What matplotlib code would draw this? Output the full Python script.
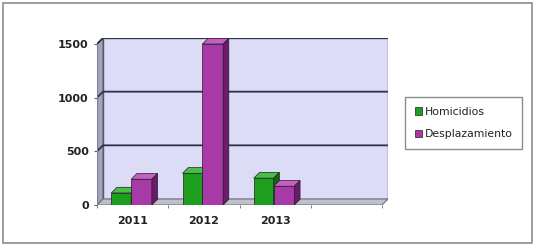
import numpy as np
import matplotlib.pyplot as plt
from matplotlib.patches import Polygon, Rectangle, Patch

years = ['2011', '2012', '2013', '']
homicidios = [112, 295, 250]
desplazamiento = [240, 1500, 175]
yticks = [0, 500, 1000, 1500]

green = ('#1e9e1e', '#45c045', '#0b6a0b')
purple = ('#a83aa8', '#c65ec6', '#6c1a6c')

fig = plt.figure(figsize=(5.35, 2.48), dpi=100)
fig.patch.set_facecolor('white')
fig.patches.append(Rectangle((3/535, 5/248), 529/535, 240/248, transform=fig.transFigure,
                             fill=False, edgecolor='#8c8c8c', linewidth=1.2))

ax = fig.add_axes([97/535, 43/248, 291/535, 167/248])
ncat = len(years)
dx = 6/71.25
dy = 6*1500/161
ax.set_xlim(0, ncat + dx)
ax.set_ylim(0, 1500 + dy)
for s in ax.spines.values():
    s.set_visible(False)
ax.patch.set_alpha(0)

top = yticks[-1]
# back wall, left wall, floor
ax.add_patch(Rectangle((dx, dy), ncat, top, facecolor='#dcdcf6', edgecolor='#505060', lw=1.0, zorder=1))
ax.add_patch(Polygon([(0, 0), (dx, dy), (dx, top+dy), (0, top)], facecolor='#a4a4bc',
                     edgecolor='#606070', lw=0.8, zorder=1))
ax.add_patch(Polygon([(0, 0), (ncat, 0), (ncat+dx, dy), (dx, dy)], facecolor='#c0c0cc',
                     edgecolor='#707080', lw=0.8, zorder=1))
for v in yticks[1:-1]:
    ax.plot([0, dx, ncat+dx], [v, v+dy, v+dy], color='#30304a', lw=1.3, zorder=2)
ax.plot([0, dx, ncat+dx], [top, top+dy, top+dy], color='#30304a', lw=1.3, zorder=2)
ax.plot([0, 0], [0, top], color='#808090', lw=0.8, zorder=2)


def bar3d(x, w, h, cols, z):
    d, dd = dx*0.95, dy*0.95
    ax.add_patch(Rectangle((x, 0), w, h, facecolor=cols[0], edgecolor='#202020', lw=0.5, zorder=z))
    ax.add_patch(Polygon([(x, h), (x+w, h), (x+w+d, h+dd), (x+d, h+dd)], facecolor=cols[1],
                         edgecolor='#202020', lw=0.5, zorder=z))
    ax.add_patch(Polygon([(x+w, 0), (x+w+d, dd), (x+w+d, h+dd), (x+w, h)], facecolor=cols[2],
                         edgecolor='#202020', lw=0.5, zorder=z))


bw = 0.28
for i in range(len(homicidios)):
    bar3d(i + 0.2, bw, homicidios[i], green, 3 + 2*i)
    bar3d(i + 0.2 + bw, bw + 0.01, desplazamiento[i], purple, 4 + 2*i)

ax.set_yticks(yticks)
ax.set_yticklabels([str(v) for v in yticks], fontsize=8, fontweight='bold', color='#222222')
ax.tick_params(axis='y', length=2, pad=4, color='#606060')
ax.set_xticks(np.arange(ncat) + 0.5)
ax.set_xticklabels(years, fontsize=8, fontweight='bold', color='#222222')
ax.set_xticks(np.arange(ncat + 1), minor=True)
ax.tick_params(axis='x', which='major', length=0, pad=8)
ax.tick_params(axis='x', which='minor', length=2, color='#606060')

handles = [Patch(facecolor=green[0], edgecolor='#202020', lw=0.5, label='Homicidios'),
           Patch(facecolor=purple[0], edgecolor='#202020', lw=0.5, label='Desplazamiento')]
leg = fig.legend(handles=handles, loc='center left', bbox_to_anchor=(405/535, 1 - 123/248),
                 fontsize=7.8, frameon=True, fancybox=False, edgecolor='#707070',
                 handlelength=0.7, handleheight=0.7, handletextpad=0.2, labelspacing=1.15,
                 borderpad=0.9, borderaxespad=0)
leg.get_frame().set_linewidth(1.0)
for t in leg.get_texts():
    t.set_color('#222222')

fig.savefig('out.png', dpi=100)
